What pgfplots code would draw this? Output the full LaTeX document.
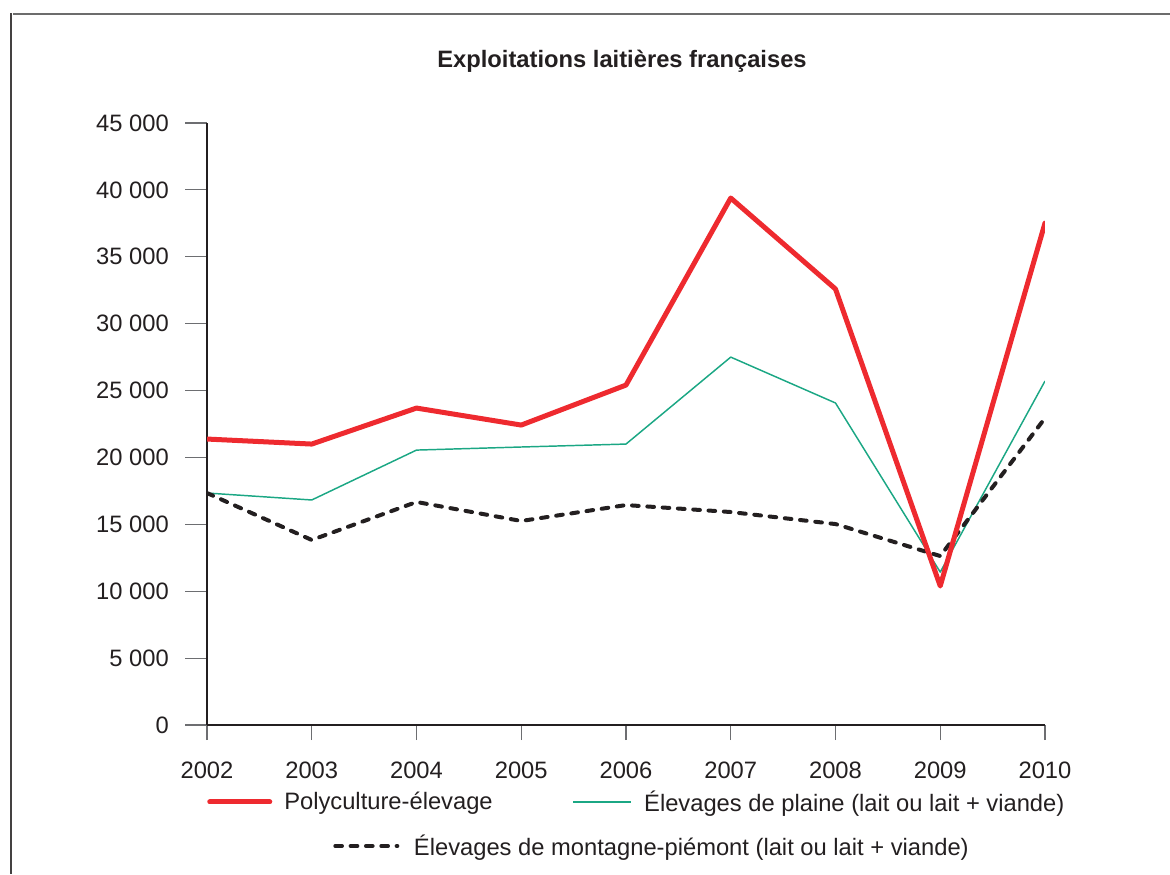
\documentclass[border=0pt]{standalone}
\usepackage{pgfplots}
\pgfplotsset{compat=1.18}
\usepackage{fontspec}
\setmainfont{Liberation Sans}
\definecolor{cred}{HTML}{EE2A2F}
\definecolor{cgreen}{HTML}{1BA784}
\definecolor{cdark}{HTML}{231F20}
\definecolor{ctick}{HTML}{6D6E71}
\newcommand{\fs}{\fontsize{17.8}{21}\selectfont}
\begin{document}
\begin{tikzpicture}
\useasboundingbox (0,0) rectangle (877.5pt,655.5pt);
% frame
\draw[color=gray!85!black, line width=1.6pt] (9.75pt,645pt) -- (877.5pt,645pt);
\draw[color=cdark!85, line width=1.1pt] (8.25pt,645.6pt) -- (8.25pt,0pt);
\node[font=\fs\bfseries, text=cdark] at (466.5pt,609.75pt) {Exploitations laitières françaises};
\begin{axis}[
  at={(155.25pt,111.75pt)}, anchor=south west,
  width=628.5pt, height=451.5pt, scale only axis,
  xmin=2002, xmax=2010, ymin=0, ymax=45000,
  axis lines=left, axis line style={-, cdark, line width=0.8pt},
  xtick={2002,2003,...,2010},
  ytick={0,5000,...,45000},
  scaled y ticks=false,
  tick align=outside,
  major tick length=16.5pt,
  tick style={ctick, line width=0.8pt},
  xtick style={/pgfplots/major tick length=11.25pt},
  /pgf/number format/assume math mode=true,
  x tick label style={/pgf/number format/1000 sep={}, font=\fs, text=cdark, inner sep=0pt, yshift=-11pt},
  y tick label style={/pgf/number format/.cd, fixed, 1000 sep={\ }, /tikz/.cd, font=\fs, text=cdark, inner sep=0pt, xshift=-12pt},
  legend columns=2,
  legend style={at={(0,-0.1279)}, anchor=west, draw=none, fill=none, inner sep=0pt,
    font=\fs, text=cdark,
    /tikz/every odd column/.append style={column sep=7pt},
    /tikz/every even column/.append style={column sep=58pt}},
  legend cell align=left,
]
\addplot[cgreen, line width=1.1pt, line join=round,
  legend image code/.code={\draw[cred, line width=3.75pt, line cap=round] (0pt,0pt) -- (45pt,0pt);}]
  coordinates {(2002,17340) (2003,16820) (2004,20550) (2005,20780) (2006,21000) (2007,27500) (2008,24070) (2009,11430) (2010,25710)};
\addplot[cdark, line width=3pt, dash pattern=on 5pt off 6.5pt, line cap=round, line join=round, forget plot]
  coordinates {(2002,17340) (2003,13830) (2004,16670) (2005,15250) (2006,16440) (2007,15920) (2008,15020) (2009,12630) (2010,22940)};
\addplot[cred, line width=3.75pt, line join=round, line cap=round, forget plot]
  coordinates {(2002,21375) (2003,21000) (2004,23690) (2005,22420) (2006,25410) (2007,39390) (2008,32590) (2009,10390) (2010,37520)};
\addlegendimage{cgreen, line width=1.1pt, legend image code/.code={\draw[cgreen, line width=1.1pt] (0pt,0pt) -- (43.5pt,0pt);}}
\legend{Polyculture-élevage, Élevages de plaine (lait ou lait + viande)}
\end{axis}
\begin{axis}[
  at={(155.25pt,111.75pt)}, anchor=south west,
  width=628.5pt, height=451.5pt, scale only axis,
  xmin=2002, xmax=2010, ymin=0, ymax=45000, hide axis,
  legend style={at={(0.1504,-0.201)}, anchor=west, draw=none, fill=none, inner sep=0pt,
    font=\fs, text=cdark,
    /tikz/every odd column/.append style={column sep=9pt}},
]
\addlegendimage{cdark, line width=3pt, dash pattern=on 5pt off 6.5pt, line cap=round,
  legend image code/.code={\draw[cdark, line width=3pt, dash pattern=on 5pt off 6.5pt, line cap=round] (1.5pt,0pt) -- (48pt,0pt);}}
\addlegendentry{Élevages de montagne-piémont (lait ou lait + viande)}
\end{axis}
\end{tikzpicture}
\end{document}
